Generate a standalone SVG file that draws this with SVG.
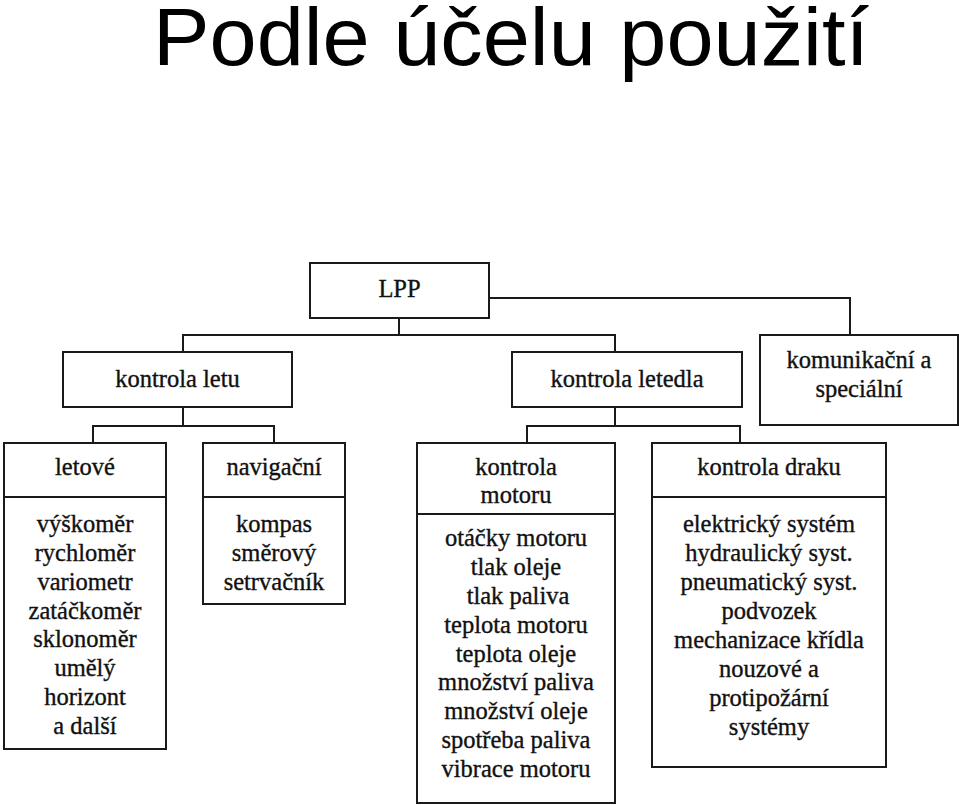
<svg xmlns="http://www.w3.org/2000/svg" width="959" height="805" viewBox="0 0 959 805">
<style>
.box{fill:#fff;stroke:#1a1a1a;stroke-width:2}
.sep{stroke:#1a1a1a;stroke-width:2}
.con{fill:none;stroke:#1a1a1a;stroke-width:2}
.t{font-family:"Liberation Serif","Times New Roman",serif;font-size:24.5px;fill:#111;text-anchor:middle;stroke:#111;stroke-width:0.35}
.title{font-family:"Liberation Sans",Arial,sans-serif;font-size:82px;fill:#000}
</style>
<rect width="959" height="805" fill="#fff"/>
<text class="title" x="153" y="65" textLength="716" lengthAdjust="spacingAndGlyphs">Podle účelu použití</text>
<g id="connectors">
<path class="con" d="M399 318V335M183 352V335H615V352"/>
<path class="con" d="M489 298H850V335"/>
<path class="con" d="M183 407V426M93 443V426H274V443"/>
<path class="con" d="M615 407V426M527 443V426H740V443"/>
</g>
<g id="lpp">
<rect class="box" x="310" y="263" width="179" height="55"/>
<text class="t" x="399.5" y="297">LPP</text>
</g>
<g id="kontrola-letu">
<rect class="box" x="63" y="352" width="229" height="55"/>
<text class="t" x="177.5" y="387">kontrola letu</text>
</g>
<g id="kontrola-letedla">
<rect class="box" x="512" y="352" width="230" height="55"/>
<text class="t" x="627" y="387">kontrola letedla</text>
</g>
<g id="komunikacni">
<rect class="box" x="760" y="335" width="198" height="90"/>
<text class="t" x="859" y="368">komunikační a</text>
<text class="t" x="859" y="397">speciální</text>
</g>
<g id="letove">
<rect class="box" x="4" y="443" width="162" height="306"/>
<line class="sep" x1="4" y1="497" x2="166" y2="497"/>
<text class="t" x="85" y="475">letové</text>
<text class="t" x="85" y="532">výškoměr</text>
<text class="t" x="85" y="561">rychloměr</text>
<text class="t" x="85" y="590">variometr</text>
<text class="t" x="85" y="619">zatáčkoměr</text>
<text class="t" x="85" y="647">sklonoměr</text>
<text class="t" x="85" y="676">umělý</text>
<text class="t" x="85" y="705">horizont</text>
<text class="t" x="85" y="734">a další</text>
</g>
<g id="navigacni">
<rect class="box" x="203" y="443" width="142" height="161"/>
<line class="sep" x1="203" y1="497" x2="345" y2="497"/>
<text class="t" x="274" y="475">navigační</text>
<text class="t" x="274" y="532">kompas</text>
<text class="t" x="274" y="561">směrový</text>
<text class="t" x="274" y="590">setrvačník</text>
</g>
<g id="kontrola-motoru">
<rect class="box" x="417" y="443" width="198" height="360"/>
<line class="sep" x1="417" y1="514" x2="615" y2="514"/>
<text class="t" x="516" y="475">kontrola</text>
<text class="t" x="516" y="503">motoru</text>
<text class="t" x="516" y="546">otáčky motoru</text>
<text class="t" x="516" y="575">tlak oleje</text>
<text class="t" x="518" y="604">tlak paliva</text>
<text class="t" x="516" y="633">teplota motoru</text>
<text class="t" x="516" y="662">teplota oleje</text>
<text class="t" x="516" y="690">množství paliva</text>
<text class="t" x="516" y="719">množství oleje</text>
<text class="t" x="516" y="748">spotřeba paliva</text>
<text class="t" x="516" y="777">vibrace motoru</text>
</g>
<g id="kontrola-draku">
<rect class="box" x="652" y="443" width="234" height="324"/>
<line class="sep" x1="652" y1="497" x2="886" y2="497"/>
<text class="t" x="769" y="475">kontrola draku</text>
<text class="t" x="769" y="532">elektrický systém</text>
<text class="t" x="769" y="561">hydraulický syst.</text>
<text class="t" x="769" y="590">pneumatický syst.</text>
<text class="t" x="769" y="619">podvozek</text>
<text class="t" x="769" y="648">mechanizace křídla</text>
<text class="t" x="769" y="677">nouzové a</text>
<text class="t" x="769" y="706">protipožární</text>
<text class="t" x="769" y="735">systémy</text>
</g>
</svg>
